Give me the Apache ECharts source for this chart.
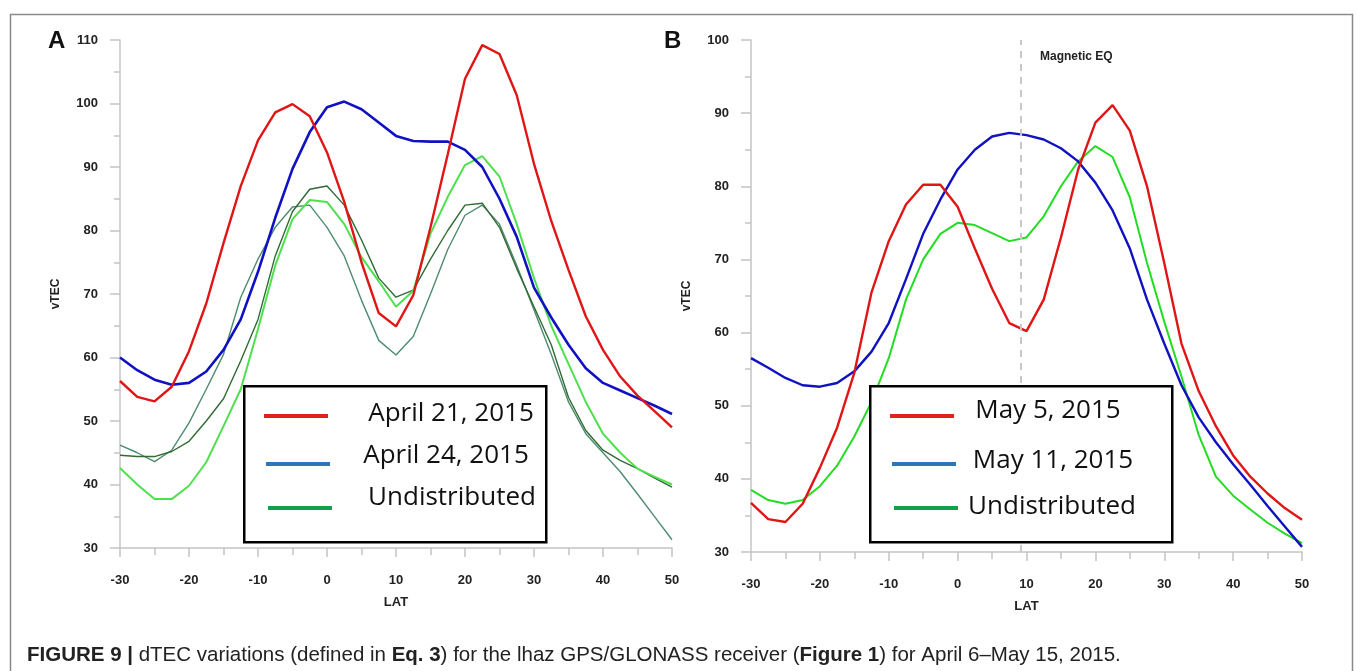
<!DOCTYPE html>
<html>
<head>
<meta charset="utf-8">
<script src="https://cdn.jsdelivr.net/npm/echarts@6/dist/echarts.min.js"></script>
<style>
  html, body { margin: 0; padding: 0; background: #fff; }
  #chart { width: 1357px; height: 671px; }
</style>
</head>
<body>
<div id="chart"></div>
<script>
// latitude samples (every 2.5 deg)
const lat = [-30, -27.5, -25, -22.5, -20, -17.5, -15, -12.5, -10, -7.5, -5, -2.5, 0, 2.5, 5, 7.5, 10,
  12.5, 15, 17.5, 20, 22.5, 25, 27.5, 30, 32.5, 35, 37.5, 40, 42.5, 45, 47.5, 50];

// panel A
const apr21 = [56.3, 53.8, 53.1, 55.4, 61, 68.5, 78, 87, 94.2, 98.6, 99.9, 98, 92.3, 84.5, 75, 67, 64.9,
  69.8, 80.5, 92, 103.9, 109.2, 107.8, 101.3, 90.5, 81.5, 73.8, 66.5, 61.2, 57, 54, 51.5, 49];
const apr24 = [60, 58, 56.5, 55.7, 56, 57.8, 61.2, 66, 73.5, 82, 89.7, 95.5, 99.4, 100.3, 99.1, 97, 94.9,
  94.1, 94, 94, 92.7, 90, 85, 79, 71, 66.3, 62, 58.3, 56, 54.8, 53.6, 52.4, 51.1];
const undistA1 = [42.6, 40, 37.7, 37.7, 39.8, 43.5, 49.2, 55, 64.5, 74.5, 81.8, 84.8, 84.5, 81, 75.8, 72, 68,
  70.5, 79.5, 85.3, 90.3, 91.7, 88.5, 81, 72.5, 65, 59, 53, 48, 45, 42.5, 41.2, 40];
const undistA2 = [44.6, 44.4, 44.4, 45.2, 46.8, 50, 53.5, 59.5, 66, 76, 83, 86.5, 87, 84, 78.5, 72.5, 69.5,
  70.6, 75.5, 80, 84, 84.3, 80.5, 74, 68, 62, 53.7, 48.5, 45.4, 43.8, 42.5, 41, 39.6];
const undistA3 = [46.2, 45, 43.6, 45.4, 49.7, 55, 60.5, 69.5, 75.5, 80.5, 83.7, 84, 80.5, 76, 69, 62.7, 60.4,
  63.3, 70, 77, 82.4, 84, 81, 74.5, 67.5, 60.5, 53, 48, 45, 42, 38.5, 34.9, 31.3];

// panel B
const may5 = [36.7, 34.5, 34.1, 36.6, 41.5, 47, 54.5, 65.5, 72.5, 77.5, 80.2, 80.2, 77.2, 71.5, 66, 61.3, 60.2,
  64.5, 73, 82.3, 88.7, 91.1, 87.6, 80, 69.5, 58.5, 52, 47.2, 43.2, 40.3, 38, 36, 34.4];
const may11 = [56.5, 55.2, 53.8, 52.8, 52.6, 53.1, 54.7, 57.4, 61.3, 67.3, 73.5, 78.2, 82.3, 85, 86.8, 87.3, 87,
  86.4, 85.2, 83.4, 80.5, 76.7, 71.5, 64.5, 58.5, 52.8, 48.4, 45, 42, 39.2, 36.3, 33.5, 30.7];
const undistB = [38.5, 37.1, 36.6, 37.1, 39, 41.8, 45.8, 50.5, 56.5, 64.5, 70, 73.5, 75, 74.7, 73.6, 72.5, 73,
  75.9, 80, 83.4, 85.5, 84, 78.5, 69.5, 61.5, 54, 46, 40.3, 37.7, 35.8, 34, 32.5, 31.2];

const magneticEq = 9.1;

const legendA = ['April 21, 2015', 'April 24, 2015', 'Undistributed'];
const legendB = ['May 5, 2015', 'May 11, 2015', 'Undistributed'];
const legendColors = ['#e3211c', '#2e75b6', '#13a04a'];

const tickFont = '"Liberation Sans Narrow", "Liberation Sans", Arial, sans-serif';
const legendFont = '"Open Sans", "Noto Sans", sans-serif';

function pairs(ys) {
  return lat.map((x, i) => [x, ys[i]]);
}

function line(name, ys, axis, color, width) {
  return {
    name: name,
    type: 'line',
    xAxisIndex: axis,
    yAxisIndex: axis,
    data: pairs(ys),
    symbol: 'none',
    lineStyle: { color: color, width: width },
    z: 3
  };
}

function xAxisOf(grid) {
  return {
    type: 'value', gridIndex: grid, min: -30, max: 50, interval: 10,
    name: 'LAT', nameLocation: 'middle', nameGap: 48,
    nameTextStyle: { fontFamily: tickFont, fontWeight: 'bold', fontSize: 13, color: '#222' },
    axisLine: { onZero: false, lineStyle: { color: '#c4c4c4', width: 1.5 } },
    axisTick: { length: 9, lineStyle: { color: '#c4c4c4', width: 1.5 } },
    minorTick: { show: true, splitNumber: 2, length: 7, lineStyle: { color: '#c4c4c4', width: 1.5 } },
    axisLabel: { margin: 26, fontFamily: tickFont, fontWeight: 'bold', fontSize: 13, color: '#222' },
    splitLine: { show: false }
  };
}

function yAxisOf(grid, max) {
  return {
    type: 'value', gridIndex: grid, min: 30, max: max, interval: 10,
    name: 'vTEC', nameLocation: 'middle', nameGap: 58, nameRotate: 90,
    nameTextStyle: { fontFamily: tickFont, fontWeight: 'bold', fontSize: 12, color: '#222' },
    axisLine: { show: true, onZero: false, lineStyle: { color: '#c4c4c4', width: 1.5 } },
    axisTick: { show: true, length: 10, lineStyle: { color: '#c4c4c4', width: 1.5 } },
    minorTick: { show: true, splitNumber: 2, length: 6, lineStyle: { color: '#c4c4c4', width: 1.5 } },
    axisLabel: { margin: 22, fontFamily: tickFont, fontWeight: 'bold', fontSize: 13, color: '#222' },
    splitLine: { show: false }
  };
}

// legend box: left edge, item names, text centre x and row y for each item
function legendBox(left, names, textX, textY) {
  const out = [{
    type: 'rect', left: left, top: 385, z: 10,
    shape: { width: 302, height: 156 },
    style: { fill: '#fff', stroke: '#000', lineWidth: 2.5 }
  }];
  const rows = [416, 464, 508];
  names.forEach((n, i) => {
    out.push({
      type: 'line', z: 11,
      shape: { x1: left + 21 + i * 2, y1: rows[i], x2: left + 85 + i * 2, y2: rows[i] },
      style: { stroke: legendColors[i], lineWidth: 4 }
    });
    out.push({
      type: 'text', z: 11, x: textX[i], y: textY[i],
      style: { text: n, fontFamily: legendFont, fontSize: 26, fill: '#111', align: 'center', verticalAlign: 'middle' }
    });
  });
  return out;
}

const chart = echarts.init(document.getElementById('chart'));
chart.setOption({
  animation: false,
  backgroundColor: '#fff',
  grid: [
    { left: 120, top: 40, width: 552, height: 508 },
    { left: 751, top: 40, width: 551, height: 512 }
  ],
  xAxis: [xAxisOf(0), xAxisOf(1)],
  yAxis: [yAxisOf(0, 110), yAxisOf(1, 100)],
  series: [
    line('Undistributed 1', undistA3, 0, '#4e8b70', 1.4),
    line('Undistributed 2', undistA2, 0, '#2f6b33', 1.4),
    line('Undistributed 3', undistA1, 0, '#4fe04f', 2),
    line(legendA[1], apr24, 0, '#1111c4', 2.6),
    line(legendA[0], apr21, 0, '#e01515', 2.4),
    Object.assign(line(legendB[2], undistB, 1, '#22dd22', 2), {
      markLine: {
        silent: true, symbol: 'none', label: { show: false },
        lineStyle: { color: '#c8c8c8', type: [7, 6], width: 2 },
        data: [{ xAxis: magneticEq }]
      }
    }),
    line(legendB[1], may11, 1, '#1111c4', 2.4),
    line(legendB[0], may5, 1, '#e01515', 2.4)
  ],
  graphic: [
    {
      type: 'rect', left: 8, top: 12, z: 0,
      shape: { width: 1342, height: 700 },
      style: { fill: 'none', stroke: '#8a8a8a', lineWidth: 1.5 }
    },
    { type: 'text', x: 48, y: 29, style: { text: 'A', fontFamily: 'Liberation Sans, Arial', fontWeight: 'bold', fontSize: 24, fill: '#111' } },
    { type: 'text', x: 664, y: 29, style: { text: 'B', fontFamily: 'Liberation Sans, Arial', fontWeight: 'bold', fontSize: 24, fill: '#111' } },
    { type: 'text', x: 1040, y: 51, style: { text: 'Magnetic EQ', fontFamily: tickFont, fontWeight: 'bold', fontSize: 12, fill: '#222' } },
    ...legendBox(243, legendA, [451, 446, 452], [414, 456, 498]),
    ...legendBox(869, legendB, [1048, 1053, 1052], [411, 461, 507]),
    {
      type: 'text', x: 27, y: 655,
      style: {
        text: '{b|FIGURE 9 |} dTEC variations (defined in {b|Eq. 3}) for the lhaz GPS/GLONASS receiver ({b|Figure 1}) for April 6\u2013May 15, 2015.',
        fontFamily: 'Liberation Sans, Arial', fontSize: 20.5, fill: '#222', verticalAlign: 'middle',
        rich: { b: { fontFamily: 'Liberation Sans, Arial', fontSize: 20.5, fontWeight: 'bold', fill: '#222' } }
      }
    }
  ]
});
</script>
</body>
</html>
